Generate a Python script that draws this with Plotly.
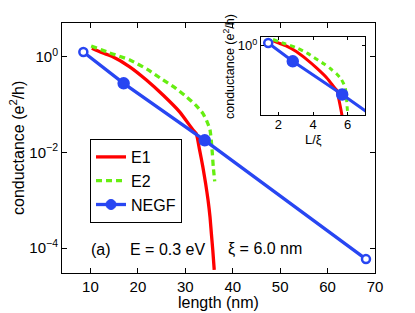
import plotly.graph_objects as go

# ---- data ----
xi = 6.0  # nm
negf_L = [8.5, 17.0, 34.1, 68.1]
negf_G = [1.27, 0.28, 0.018, 5.9e-5]

e1_L = [10.3, 12.5, 14.7, 18.2, 21.8, 25.3, 28.8, 31.6, 32.3, 33.0, 33.7, 34.3, 34.8, 35.2, 35.5, 35.8, 36.1]
e1_G = [1.52, 1.22, 1.01, 0.63, 0.33, 0.16, 0.071, 0.030, 0.025, 0.0115, 0.0050, 0.0022, 0.0010, 4.6e-4, 2.0e-4, 9.0e-5, 3.5e-5]

e2_L = [10.15, 14.0, 18.2, 22.0, 25.3, 28.0, 30.2, 32.2, 33.7, 34.6, 35.2, 35.6, 35.9, 36.2]
e2_G = [1.70, 1.22, 0.87, 0.55, 0.33, 0.22, 0.148, 0.098, 0.066, 0.044, 0.030, 0.013, 0.0050, 0.0025]

x_ticks = [10, 20, 30, 40, 50, 60, 70]
y_ticks = [1, 1e-2, 1e-4]
y_ticktext = ["10<sup>0</sup>", "10<sup>−2</sup>", "10<sup>−4</sup>"]
inset_x_ticks = [2, 4, 6]

RED = "#ff0000"
GREEN = "#66ee11"
BLUE = "#2846f2"
FONT = "Liberation Sans, Arial, Helvetica, sans-serif"

# endpoints drawn as white-centred rings, middle points filled
m_fill = ["white", BLUE, BLUE, "white"]
m_size = [8, 10, 10, 8]

fig = go.Figure()

# main traces
fig.add_trace(go.Scatter(x=e1_L, y=e1_G, mode="lines", name="E1",
                         line=dict(color=RED, width=3.3, shape="spline", smoothing=0.6)))
fig.add_trace(go.Scatter(x=e2_L, y=e2_G, mode="lines", name="E2",
                         line=dict(color=GREEN, width=3.3, dash="6px,4px", shape="spline", smoothing=0.6)))
fig.add_trace(go.Scatter(x=negf_L, y=negf_G, mode="lines+markers", name="NEGF", showlegend=False,
                         line=dict(color=BLUE, width=3.3),
                         marker=dict(color=m_fill, size=m_size, symbol="circle", opacity=1,
                                     line=dict(color=BLUE, width=2.5))))
fig.add_trace(go.Scatter(x=[None], y=[None], mode="lines+markers", name="NEGF",
                         line=dict(color=BLUE, width=3.3),
                         marker=dict(color=BLUE, size=10, symbol="circle", opacity=1,
                                     line=dict(color=BLUE, width=1))))

# inset traces
ins_e1 = [v / xi for v in e1_L]
ins_e2 = [v / xi for v in e2_L]
ins_ng = [v / xi for v in negf_L]
fig.add_trace(go.Scatter(x=ins_e1, y=e1_G, mode="lines", showlegend=False, xaxis="x2", yaxis="y2",
                         line=dict(color=RED, width=3, shape="spline", smoothing=0.6)))
fig.add_trace(go.Scatter(x=ins_e2, y=e2_G, mode="lines", showlegend=False, xaxis="x2", yaxis="y2",
                         line=dict(color=GREEN, width=3, dash="5px,4px", shape="spline", smoothing=0.6)))
fig.add_trace(go.Scatter(x=ins_ng, y=negf_G, mode="lines+markers", showlegend=False, xaxis="x2", yaxis="y2",
                         line=dict(color=BLUE, width=3),
                         marker=dict(color=m_fill, size=m_size, symbol="circle", opacity=1,
                                     line=dict(color=BLUE, width=2.5))))

# page offset (the page body adds 8 px); plot area = x 62..375, y 23..273 in window pixels
OFF = 8
W, H = 415, 313
PL, PR, PT, PB = 62, 375, 23, 273
pw, ph = PR - PL, PB - PT

def px(xp):
    return (xp - PL) / pw

def py(yp):
    return (PB - yp) / ph

axis_common = dict(showline=True, linecolor="black", linewidth=1, mirror="ticks",
                   ticks="inside", tickcolor="black", showgrid=False, zeroline=False)

fig.update_layout(
    width=W, height=H,
    margin=dict(l=PL - OFF, r=W - pw - (PL - OFF), t=PT - OFF, b=H - ph - (PT - OFF), autoexpand=False),
    paper_bgcolor="white", plot_bgcolor="white",
    font=dict(family=FONT, size=15, color="black"),
    xaxis=dict(range=[4, 70], tickvals=x_ticks, ticklen=5, tickfont=dict(size=15), **axis_common),
    yaxis=dict(type="log", range=[-4.52, 0.71], tickvals=y_ticks, ticktext=y_ticktext,
               ticklen=5, tickfont=dict(size=15), **axis_common),
    xaxis2=dict(domain=[px(261), px(365)], anchor="y2", range=[1, 7], tickvals=inset_x_ticks,
                ticklen=3, tickfont=dict(size=13), ticklabelstandoff=-3, **axis_common),
    yaxis2=dict(domain=[py(115), py(37)], anchor="x2", type="log", range=[-2.48, 0.32],
                tickvals=[1], ticktext=["10<sup>0</sup>"], ticklen=3, tickfont=dict(size=13), **axis_common),
    legend=dict(x=px(90), y=py(139), xanchor="left", yanchor="top",
                bgcolor="white", bordercolor="black", borderwidth=1,
                font=dict(size=16), tracegroupgap=0, itemwidth=30),
    showlegend=True,
)

ann = [
    dict(text="length (nm)", x=px(218), y=py(302), font=dict(size=16)),
    dict(text="conductance (e<sup>2</sup>/h)", x=px(17), y=py(148), textangle=-90, font=dict(size=16)),
    dict(text="L/ξ", x=px(313), y=py(139), font=dict(size=13)),
    dict(text="conductance (e<sup>2</sup>/h)", x=px(229), y=py(67), textangle=-90, font=dict(size=12.5)),
    dict(text="(a)", x=px(101), y=py(249), font=dict(size=16)),
    dict(text="E = 0.3 eV", x=px(167), y=py(249), font=dict(size=16)),
    dict(text="ξ = 6.0 nm", x=px(265), y=py(249), font=dict(size=16)),
]
for a in ann:
    fig.add_annotation(xref="paper", yref="paper", showarrow=False,
                       xanchor="center", yanchor="middle", **a)

fig.write_html("out.html")
